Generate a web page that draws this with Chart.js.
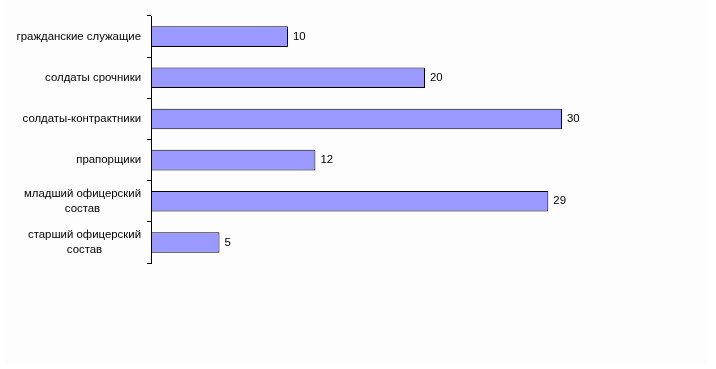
<!DOCTYPE html>
<html>
<head>
<meta charset="utf-8">
<script src="https://cdn.jsdelivr.net/npm/chart.js@4/dist/chart.umd.min.js"></script>
<style>
  html, body { margin: 0; padding: 0; background: #ffffff; }
  #wrap { position: relative; width: 716px; height: 369px; }
</style>
</head>
<body>
<div id="wrap"><canvas id="chart" width="716" height="369"></canvas></div>
<script>
// ===== data =====
const categories = [
    ["гражданские служащие"],
    ["солдаты срочники"],
    ["солдаты-контрактники"],
    ["прапорщики"],
    ["младший офицерский", "состав"],
    ["старший офицерский", "состав"]
];
const values = [10, 20, 30, 12, 29, 5];
const xMax = 40;

const FONT = '11.4px "Liberation Sans", Arial, sans-serif';

// light panel behind everything
const panelPlugin = {
    id: 'panel',
    beforeDraw(chart) {
        const ctx = chart.ctx;
        ctx.save();
        ctx.fillStyle = '#fdfdfd';
        ctx.fillRect(5, 0, 702, 364);
        ctx.restore();
    }
};

// category labels: block right-aligned to the axis, lines centred inside
const labelPlugin = {
    id: 'catLabels',
    afterDraw(chart) {
        const ctx = chart.ctx;
        const yScale = chart.scales.y;
        const right = yScale.right - 10;
        const lineH = 15;
        ctx.save();
        ctx.font = FONT;
        ctx.fillStyle = '#000';
        ctx.textAlign = 'center';
        ctx.textBaseline = 'middle';
        categories.forEach((lines, i) => {
            const yc = yScale.getPixelForTick(i);
            const w = Math.max(...lines.map(l => ctx.measureText(l).width));
            const xc = right - w / 2;
            const y0 = yc - (lines.length - 1) * lineH / 2;
            lines.forEach((l, k) => ctx.fillText(l, xc, y0 + k * lineH));
        });
        ctx.restore();
    }
};

// value labels next to bar ends
const valuePlugin = {
    id: 'valueLabels',
    afterDatasetsDraw(chart) {
        const ctx = chart.ctx;
        const meta = chart.getDatasetMeta(0);
        ctx.save();
        ctx.font = FONT;
        ctx.fillStyle = '#000';
        ctx.textAlign = 'left';
        ctx.textBaseline = 'middle';
        meta.data.forEach((bar, i) => {
            ctx.fillText(String(values[i]), bar.x + 5, bar.y);
        });
        ctx.restore();
    }
};

new Chart(document.getElementById('chart'), {
    type: 'bar',
    data: {
        labels: categories.map(c => c.join(' ')),
        datasets: [{
            data: values,
            backgroundColor: '#9999ff',
            borderColor: '#000000',
            borderWidth: 1,
            borderSkipped: false,
            barPercentage: 0.5,
            categoryPercentage: 1.0
        }]
    },
    options: {
        indexAxis: 'y',
        responsive: false,
        animation: false,
        devicePixelRatio: 1,
        layout: { padding: { top: 16, bottom: 106, right: 17, left: 0 } },
        plugins: {
            legend: { display: false },
            tooltip: { enabled: false }
        },
        scales: {
            x: {
                display: false,
                min: 0,
                max: xMax
            },
            y: {
                offset: true,
                afterFit(scale) { scale.width = 151; },
                ticks: { display: false },
                grid: {
                    offset: true,
                    drawOnChartArea: false,
                    drawTicks: true,
                    tickLength: 4,
                    color: '#000000'
                },
                border: { display: true, color: '#000000', width: 1 }
            }
        }
    },
    plugins: [panelPlugin, labelPlugin, valuePlugin]
});
</script>
</body>
</html>
